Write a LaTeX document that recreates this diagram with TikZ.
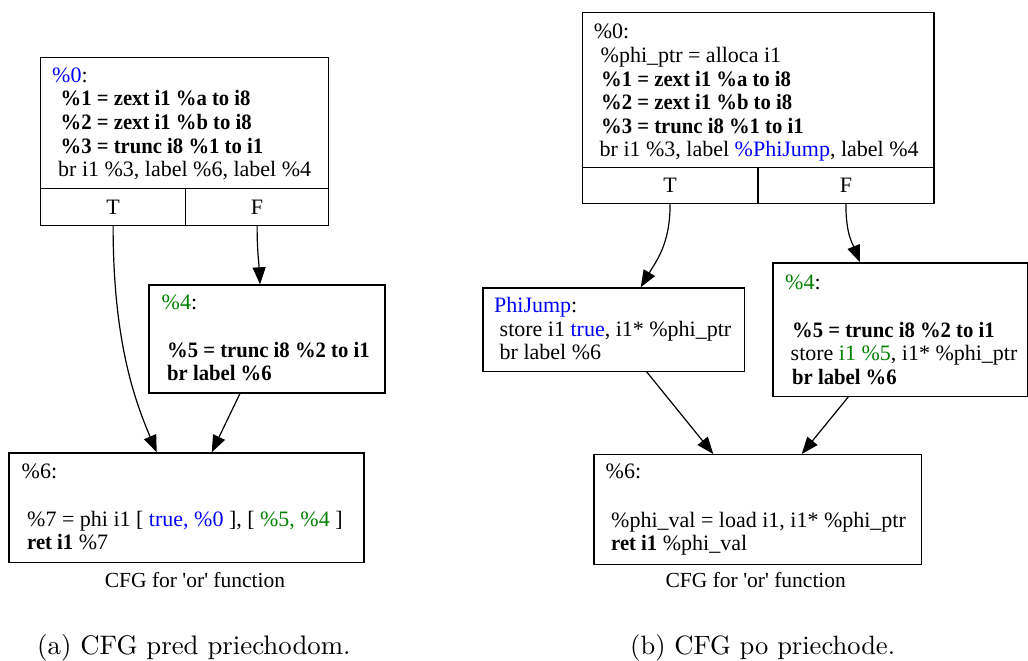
\documentclass[tikz,border=0pt]{standalone}
\usepackage{fontspec}
\newfontfamily\gvfont{Liberation Serif}[BoldFeatures={FakeStretch=0.94}]
\usetikzlibrary{arrows.meta}
\definecolor{gvblue}{RGB}{0,0,255}
\definecolor{gvgreen}{RGB}{0,128,0}
\newcommand{\gvsize}{\fontsize{22}{23.5}\selectfont}

\tikzset{
  block/.style={draw, line width=1.2pt, rectangle, inner sep=0pt, anchor=north west},
  cell/.style={draw, line width=1.2pt, rectangle, inner sep=0pt, anchor=north west,
               font=\gvfont\gvsize},
  ln/.style={anchor=base west, inner sep=0pt, font=\gvfont\gvsize},
  title/.style={anchor=base, inner sep=0pt, font=\gvfont\fontsize{21.5}{23.5}\selectfont},
  sub/.style={anchor=base west, inner sep=0pt},
  edge/.style={line width=1.2pt, -{Triangle[length=17pt,width=13pt]}},
}

\begin{document}
\begin{tikzpicture}[x=1pt, y=-1pt]
\useasboundingbox (0,0) rectangle (1028,661);

% ---------- left graph: before the pass ----------
\node[block, minimum width=288, minimum height=131] (L0) at (40,57) {};
\node[cell, minimum width=145, minimum height=37] (tL) at (40,188) {T};
\node[cell, minimum width=143, minimum height=37] (fL) at (185,188) {F};
\node[ln] (l0a) at (52,82.5) {\textcolor{gvblue}{\%0}:};
\node[ln] (l0b) at (60.5,106) {\bfseries \%1 = zext i1 \%a to i8};
\node[ln] (l0c) at (60.5,129.5) {\bfseries \%2 = zext i1 \%b to i8};
\node[ln] (l0d) at (60.5,153) {\bfseries \%3 = trunc i8 \%1 to i1};
\node[ln] (l0e) at (58,176.5) {br i1 \%3, label \%6, label \%4};

\node[block, minimum width=236, minimum height=108] (L4) at (148.3,284.3) {};
\node[ln] (l4a) at (161.5,309) {\textcolor{gvgreen}{\%4}:};
\node[ln] (l4b) at (167,357.5) {\bfseries \%5 = trunc i8 \%2 to i1};
\node[ln] (l4c) at (167,380.5) {\bfseries br label \%6};

\node[block, minimum width=355, minimum height=109.4] (L6) at (8.3,452.3) {};
\node[ln] (l6a) at (21.5,478.5) {\%6:};
\node[ln] (l6b) at (27,526.5) {\%7 = phi i1 [ \textcolor{gvblue}{true, \%0} ], [ \textcolor{gvgreen}{\%5, \%4} ]};
\node[ln] (l6c) at (27,549.5) {\textbf{ret i1} \%7};
\node[title] (capL) at (195,587.5) {CFG for \textquotesingle or\textquotesingle{} function};

\draw[edge] (tL.south) .. controls +(0,115) and +(-22,-52) .. ([xshift=148.4]L6.north west);
\draw[edge] (fL.south) .. controls +(0,25) and +(-1,-20) .. ([xshift=111.7]L4.north west);
\draw[edge] ([xshift=91.7]L4.south west) -- ([xshift=203.4]L6.north west);

% ---------- right graph: after the pass ----------
\node[block, minimum width=351.6, minimum height=155] (R0) at (581.7,11.7) {};
\node[cell, minimum width=175.6, minimum height=36] (tR) at (581.7,166.7) {T};
\node[cell, minimum width=176, minimum height=36] (fR) at (757.3,166.7) {F};
\node[ln] (r0a) at (593.7,39) {\%0:};
\node[ln] (r0b) at (600.5,62.5) {\%phi\_ptr = alloca i1};
\node[ln] (r0c) at (601,86) {\bfseries \%1 = zext i1 \%a to i8};
\node[ln] (r0d) at (601,109.5) {\bfseries \%2 = zext i1 \%b to i8};
\node[ln] (r0e) at (601,133) {\bfseries \%3 = trunc i8 \%1 to i1};
\node[ln] (r0f) at (599.5,156.5) {br i1 \%3, label \textcolor{gvblue}{\%PhiJump}, label \%4};

\node[block, minimum width=261.7, minimum height=83.4] (PJ) at (482.3,287.3) {};
\node[ln] (pja) at (494,312.5) {\textcolor{gvblue}{PhiJump}:};
\node[ln] (pjb) at (499.5,336) {store i1 \textcolor{gvblue}{true}, i1* \%phi\_ptr};
\node[ln] (pjc) at (499.5,359.5) {br label \%6};

\node[block, minimum width=254.7, minimum height=133.4] (R4) at (772.3,262.3) {};
\node[ln] (r4a) at (785,289) {\textcolor{gvgreen}{\%4}:};
\node[ln] (r4b) at (792,337) {\bfseries \%5 = trunc i8 \%2 to i1};
\node[ln] (r4c) at (790.5,360.5) {store \textcolor{gvgreen}{i1 \%5}, i1* \%phi\_ptr};
\node[ln] (r4d) at (792,384) {\bfseries br label \%6};

\node[block, minimum width=327.4, minimum height=110] (R6) at (593.3,454) {};
\node[ln] (r6a) at (605.5,478.5) {\%6:};
\node[ln] (r6b) at (611,527) {\%phi\_val = load i1, i1* \%phi\_ptr};
\node[ln] (r6c) at (611,550.5) {\textbf{ret i1} \%phi\_val};
\node[title] (capR) at (755.8,587.5) {CFG for \textquotesingle or\textquotesingle{} function};

\draw[edge] (tR.south) .. controls +(0,40) and +(16,-27) .. ([xshift=158.4]PJ.north west);
\draw[edge] (fR.south) .. controls +(0,30) and +(-8,-20) .. ([xshift=87.7]R4.north west);
\draw[edge] ([xshift=164.4]PJ.south west) -- ([xshift=120]R6.north west);
\draw[edge] ([xshift=76]R4.south west) -- ([xshift=208.4]R6.north west);

% ---------- sub-captions ----------
\node[sub] (subA) at (37,654) {\scalebox{2.68}{(a) CFG pred priechodom.}};
\node[sub] (subB) at (630,654) {\scalebox{2.65}{(b) CFG po priechode.}};
\end{tikzpicture}
\end{document}
